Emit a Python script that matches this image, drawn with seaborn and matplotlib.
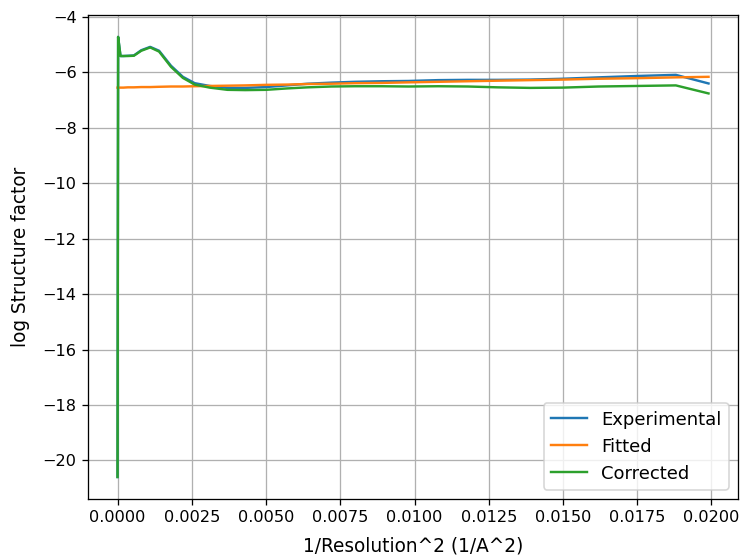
import matplotlib
matplotlib.use("Agg")
import matplotlib.pyplot as plt
import seaborn as sns
import pandas as pd

x_vals = [0.0, 0.00002, 0.0001, 0.0002, 0.00035, 0.00055, 0.0008, 0.0011, 0.0014, 0.0018,
          0.0022, 0.0026, 0.0031, 0.0037, 0.0043, 0.0050, 0.0057, 0.0064, 0.0072, 0.0080,
          0.0089, 0.0098, 0.0108, 0.0118, 0.0128, 0.0139, 0.0150, 0.0162, 0.0175, 0.0188, 0.0199]

experimental = [-20.6, -4.72, -5.41, -5.41, -5.40, -5.39, -5.20, -5.08, -5.22, -5.76,
                -6.16, -6.39, -6.49, -6.56, -6.56, -6.53, -6.47, -6.41, -6.37, -6.34,
                -6.32, -6.31, -6.28, -6.27, -6.27, -6.26, -6.23, -6.18, -6.13, -6.09, -6.40]

fitted = [-6.55, -6.55, -6.55, -6.55, -6.54, -6.54, -6.53, -6.53, -6.52, -6.51,
          -6.51, -6.50, -6.49, -6.48, -6.47, -6.45, -6.44, -6.42, -6.41, -6.39,
          -6.38, -6.36, -6.34, -6.32, -6.30, -6.28, -6.26, -6.23, -6.21, -6.18, -6.16]

corrected = [-20.6, -4.72, -5.41, -5.41, -5.41, -5.40, -5.22, -5.10, -5.25, -5.80,
             -6.20, -6.44, -6.55, -6.63, -6.64, -6.63, -6.58, -6.54, -6.51, -6.50,
             -6.50, -6.51, -6.50, -6.51, -6.54, -6.56, -6.55, -6.51, -6.49, -6.47, -6.76]

series_names = ["Experimental", "Fitted", "Corrected"]

df = pd.concat([
    pd.DataFrame({"x": x_vals, "y": experimental, "series": series_names[0]}),
    pd.DataFrame({"x": x_vals, "y": fitted, "series": series_names[1]}),
    pd.DataFrame({"x": x_vals, "y": corrected, "series": series_names[2]}),
], ignore_index=True)

fig = plt.figure(figsize=(6.4, 4.79), dpi=116.1)
ax = fig.add_axes([0.1184, 0.1025, 0.8749, 0.8705])

sns.lineplot(data=df, x="x", y="y", hue="series", hue_order=series_names,
             palette=["#1f77b4", "#ff7f0e", "#2ca02c"], estimator=None,
             sort=False, linewidth=1.5, ax=ax)

ax.grid(True)
ax.set_xlabel("1/Resolution^2 (1/A^2)", fontsize=11.5, labelpad=7)
ax.set_ylabel("log Structure factor", fontsize=11.5, labelpad=8)
ax.set_xticks([0.0, 0.0025, 0.005, 0.0075, 0.01, 0.0125, 0.015, 0.0175, 0.02])
ax.set_xticklabels(["0.0000", "0.0025", "0.0050", "0.0075", "0.0100",
                    "0.0125", "0.0150", "0.0175", "0.0200"])
ax.set_yticks(range(-20, -3, 2))
ax.set_yticklabels([f"\u2212{abs(v)}" for v in range(-20, -3, 2)])
handles, labels = ax.get_legend_handles_labels()
ax.legend(handles, labels, loc="lower right", fontsize=11.2)

fig.savefig("out.png", dpi=116.1)
